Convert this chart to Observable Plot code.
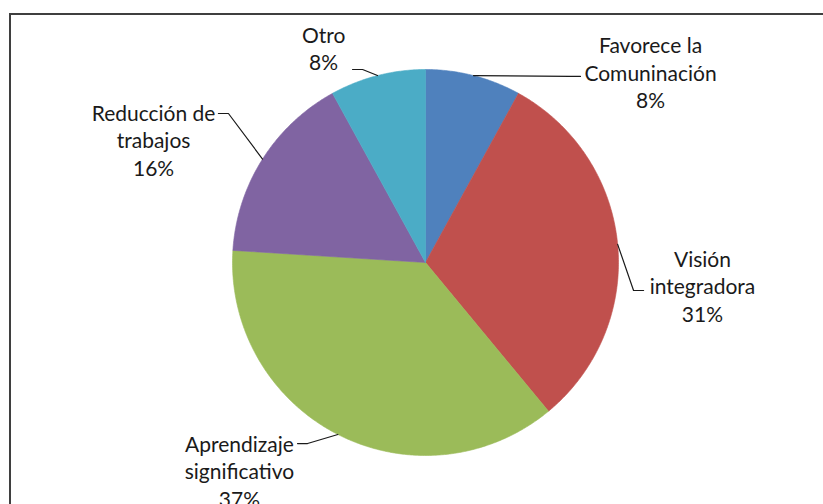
<!DOCTYPE html>
<html>
<head>
<meta charset="utf-8">
<script src="https://cdn.jsdelivr.net/npm/d3@7"></script>
<script src="https://cdn.jsdelivr.net/npm/@observablehq/plot@0.6"></script>
<style>
  html, body { margin: 0; padding: 0; background: #fff; }
  #wrap { position: relative; width: 823px; height: 504px; overflow: hidden; }
  #frame { position: absolute; left: 9px; top: 13px; width: 900px; height: 600px;
           border: 2px solid #3f3f3f; box-sizing: border-box; pointer-events: none; }
  #chart { position: absolute; left: 0; top: 0; }
</style>
</head>
<body>
<div id="wrap"><div id="chart"></div><div id="frame"></div></div>
<script>
// ---- data (clockwise from 12 o'clock) ----
const categories = ["Favorece la\nComuninación", "Visión\nintegradora", "Aprendizaje\nsignificativo", "Reducción de\ntrabajos", "Otro"];
const percents = [8, 31, 37, 16, 8];
const sliceColors = ["#4F81BD", "#C0504D", "#9BBB59", "#8064A2", "#4BACC6"];

// ---- label layout (units of pie radius, pie centre = 0,0) ----
const labelCenter = [[1.166, 0.987], [1.435, -0.119], [-0.964, -1.078], [-1.409, 0.637], [-0.528, 1.114]];
const leaderEnd   = [[0.803, 0.964], [1.13, -0.145], [-0.663, -0.938], [-1.073, 0.772], [-0.378, 1.0]];

const rows = categories.map((c, i) => ({name: c, value: percents[i]}));
const arcs = d3.pie().sort(null).value(d => d.value)(rows);

const slicePts = [];
arcs.forEach(a => {
  const n = a.data.name;
  slicePts.push({name: n, x: 0, y: 0});
  const steps = Math.max(2, Math.ceil((a.endAngle - a.startAngle) / (Math.PI / 360)));
  for (let k = 0; k <= steps; k++) {
    const t = a.startAngle + (a.endAngle - a.startAngle) * k / steps;
    slicePts.push({name: n, x: Math.sin(t), y: Math.cos(t)});
  }
  slicePts.push({name: n, x: 0, y: 0});
});

const labels = arcs.map((a, i) => ({
  text: `${a.data.name}\n${a.data.value}%`,
  x: labelCenter[i][0], y: labelCenter[i][1]
}));

const leaders = [];
arcs.forEach((a, i) => {
  const mid = (a.startAngle + a.endAngle) / 2;
  const [ex, ey] = leaderEnd[i];
  const dir = ex > Math.sin(mid) ? -1 : 1;
  leaders.push({id: i, x: Math.sin(mid), y: Math.cos(mid)});
  leaders.push({id: i, x: ex + dir * 0.052, y: ey});
  leaders.push({id: i, x: ex, y: ey});
});

const chart = Plot.plot({
  width: 823,
  height: 504,
  margin: 0,
  style: {fontFamily: "Lato, 'Open Sans', sans-serif", background: "transparent"},
  x: {domain: [-1, 1], range: [232, 618], axis: null},
  y: {domain: [-1, 1], range: [455, 69], axis: null},
  color: {domain: categories, range: sliceColors},
  marks: [
    Plot.line(slicePts, {x: "x", y: "y", z: "name", fill: "name", stroke: "name", strokeWidth: 0.6, curve: "linear"}),
    Plot.line(leaders, {x: "x", y: "y", z: "id", stroke: "#1a1a1a", strokeWidth: 1.2}),
    Plot.text(labels, {x: "x", y: "y", text: "text", textAnchor: "middle", lineAnchor: "middle",
      fontSize: 21, lineHeight: 1.31, fill: "#1a1a1a"})
  ]
});
document.getElementById("chart").appendChild(chart);
</script>
</body>
</html>
